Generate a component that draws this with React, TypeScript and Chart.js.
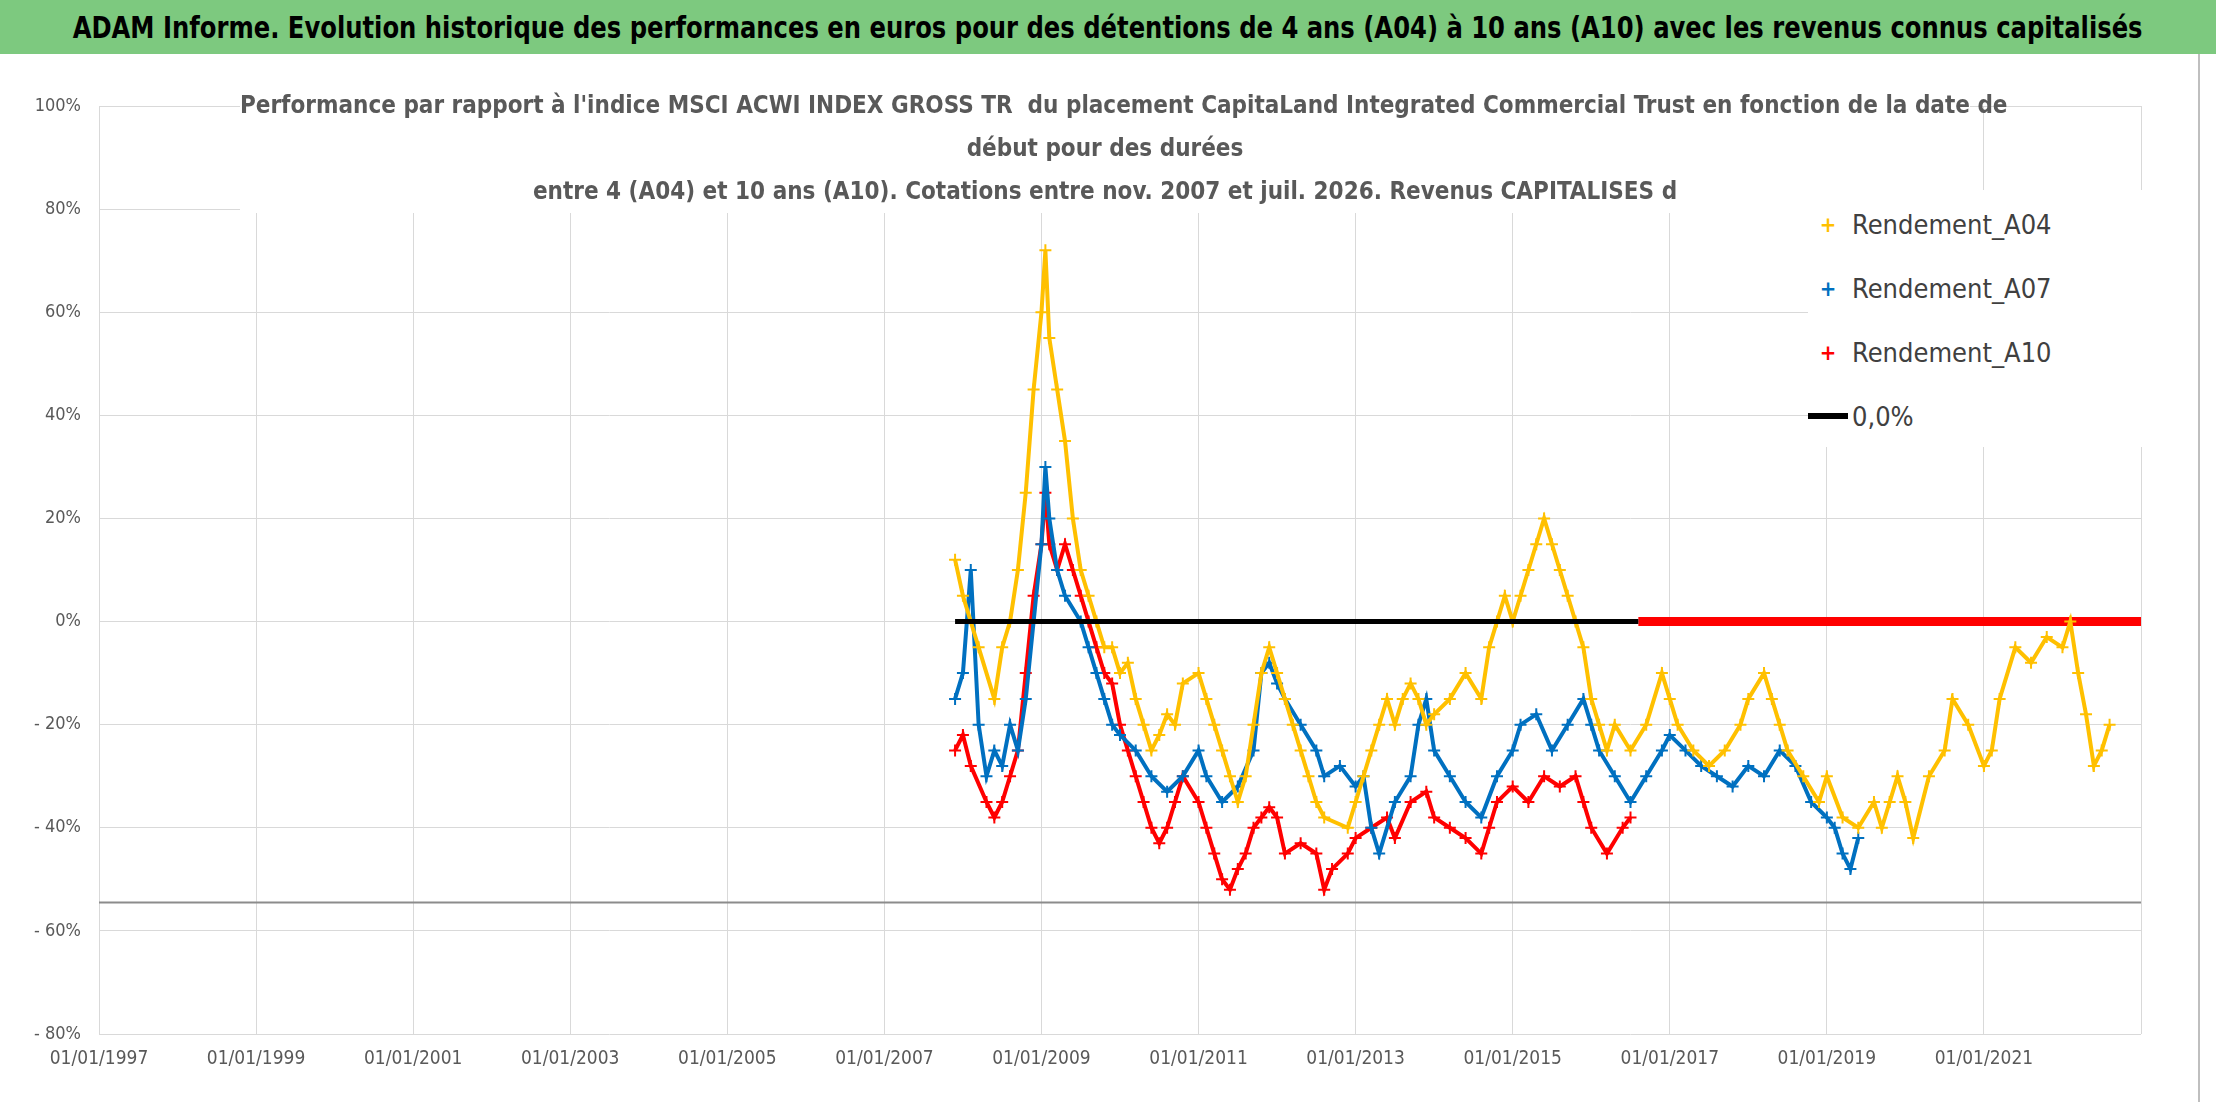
import React, { useEffect, useRef } from "react";
import { Chart, registerables } from "chart.js";
Chart.register(...registerables);

const a04X = [2007.9,2008.0,2008.2,2008.4,2008.5,2008.6,2008.7,2008.8,2008.9,2009.0,2009.05,2009.1,2009.2,2009.3,2009.4,2009.5,2009.6,2009.7,2009.8,2009.9,2010.0,2010.1,2010.2,2010.3,2010.4,2010.5,2010.6,2010.7,2010.8,2011.0,2011.1,2011.2,2011.3,2011.4,2011.5,2011.6,2011.7,2011.8,2011.9,2012.0,2012.1,2012.2,2012.3,2012.4,2012.5,2012.6,2012.9,2013.0,2013.1,2013.2,2013.3,2013.4,2013.5,2013.6,2013.7,2013.8,2013.9,2014.0,2014.2,2014.4,2014.6,2014.7,2014.8,2014.9,2015.0,2015.1,2015.2,2015.3,2015.4,2015.5,2015.6,2015.7,2015.8,2015.9,2016.0,2016.1,2016.2,2016.3,2016.5,2016.7,2016.9,2017.0,2017.1,2017.3,2017.5,2017.7,2017.9,2018.0,2018.2,2018.3,2018.4,2018.5,2018.7,2018.9,2019.0,2019.2,2019.4,2019.6,2019.7,2019.8,2019.9,2020.0,2020.1,2020.3,2020.5,2020.6,2020.8,2021.0,2021.1,2021.2,2021.4,2021.6,2021.8,2022.0,2022.1,2022.2,2022.3,2022.4,2022.5,2022.6];
const a04Y = [12,5,-5,-15,-5,0,10,25,45,60,72,55,45,35,20,10,5,0,-5,-5,-10,-8,-15,-20,-25,-22,-18,-20,-12,-10,-15,-20,-25,-30,-35,-30,-20,-10,-5,-10,-15,-20,-25,-30,-35,-38,-40,-35,-30,-25,-20,-15,-20,-15,-12,-15,-20,-18,-15,-10,-15,-5,0,5,0,5,10,15,20,15,10,5,0,-5,-15,-20,-25,-20,-25,-20,-10,-15,-20,-25,-28,-25,-20,-15,-10,-15,-20,-25,-30,-35,-30,-38,-40,-35,-40,-35,-30,-35,-42,-30,-25,-15,-20,-28,-25,-15,-5,-8,-3,-5,0,-10,-18,-28,-25,-20];

const a07X = [2007.9,2008.0,2008.1,2008.2,2008.3,2008.4,2008.5,2008.6,2008.7,2008.8,2008.9,2009.0,2009.05,2009.1,2009.2,2009.3,2009.5,2009.6,2009.7,2009.8,2009.9,2010.0,2010.2,2010.4,2010.6,2010.8,2011.0,2011.1,2011.3,2011.5,2011.7,2011.8,2011.9,2012.0,2012.1,2012.3,2012.5,2012.6,2012.8,2013.0,2013.1,2013.2,2013.3,2013.5,2013.7,2013.8,2013.9,2014.0,2014.2,2014.4,2014.6,2014.8,2015.0,2015.1,2015.3,2015.5,2015.7,2015.9,2016.0,2016.1,2016.3,2016.5,2016.7,2016.9,2017.0,2017.2,2017.4,2017.6,2017.8,2018.0,2018.2,2018.4,2018.6,2018.8,2019.0,2019.1,2019.2,2019.3,2019.4];
const a07Y = [-15,-10,10,-20,-30,-25,-28,-20,-25,-15,0,15,30,20,10,5,0,-5,-10,-15,-20,-22,-25,-30,-33,-30,-25,-30,-35,-32,-25,-10,-8,-12,-15,-20,-25,-30,-28,-32,-30,-40,-45,-35,-30,-20,-15,-25,-30,-35,-38,-30,-25,-20,-18,-25,-20,-15,-20,-25,-30,-35,-30,-25,-22,-25,-28,-30,-32,-28,-30,-25,-28,-35,-38,-40,-45,-48,-42];

const a10X = [2007.9,2008.0,2008.1,2008.3,2008.4,2008.5,2008.6,2008.7,2008.8,2008.9,2009.0,2009.05,2009.1,2009.2,2009.3,2009.4,2009.5,2009.6,2009.7,2009.8,2009.9,2010.0,2010.1,2010.2,2010.3,2010.4,2010.5,2010.6,2010.7,2010.8,2011.0,2011.1,2011.2,2011.3,2011.4,2011.5,2011.6,2011.7,2011.8,2011.9,2012.0,2012.1,2012.3,2012.5,2012.6,2012.7,2012.9,2013.0,2013.2,2013.4,2013.5,2013.7,2013.9,2014.0,2014.2,2014.4,2014.6,2014.7,2014.8,2015.0,2015.2,2015.4,2015.6,2015.8,2015.9,2016.0,2016.2,2016.4,2016.5];
const a10Y = [-25,-22,-28,-35,-38,-35,-30,-25,-10,5,15,25,15,10,15,10,5,0,-5,-10,-12,-20,-25,-30,-35,-40,-43,-40,-35,-30,-35,-40,-45,-50,-52,-48,-45,-40,-38,-36,-38,-45,-43,-45,-52,-48,-45,-42,-40,-38,-42,-35,-33,-38,-40,-42,-45,-40,-35,-32,-35,-30,-32,-30,-35,-40,-45,-40,-38];

const zeroBlackX = [2007.9, 2016.6];
const zeroRedX = [2016.6, 2023];
const refLineY = -54.5;

const font = "'DejaVu Sans Condensed', 'Liberation Sans Narrow', Arial, sans-serif";

export default function App() {
  const ref = useRef<HTMLCanvasElement>(null);
  useEffect(() => {
    const pts = (xs: number[], ys: number[]) => xs.map((x, i) => ({ x, y: ys[i] }));
    const sc = (label: string, color: string, xs: number[], ys: number[]) => ({
      label, data: pts(xs, ys), borderColor: color, backgroundColor: color,
      showLine: true, borderWidth: 4, pointStyle: "cross", pointRadius: 6, pointBorderWidth: 2,
    });
    const chart = new Chart(ref.current!, {
      type: "scatter",
      data: {
        datasets: [
          { label: "ref", data: [{ x: 1996, y: refLineY }, { x: 2023, y: refLineY }], showLine: true, borderColor: "#8c8c8c", borderWidth: 2, pointRadius: 0 } as any,
          { label: "0,0%", data: zeroBlackX.map((x) => ({ x, y: 0 })), showLine: true, borderColor: "#000", borderWidth: 5, pointRadius: 0 },
          sc("Rendement_A04", "#FFC000", a04X, a04Y),
          sc("Rendement_A07", "#0070C0", a07X, a07Y),
          sc("Rendement_A10", "#FF0000", a10X, a10Y),
          { label: "zr", data: zeroRedX.map((x) => ({ x, y: 0 })), showLine: true, borderColor: "#FF0000", borderWidth: 9, pointRadius: 0 },
        ],
      },
      options: {
        animation: false, responsive: false, maintainAspectRatio: false,
        layout: { padding: { left: 0, right: 75, top: 52, bottom: 0 } },
        plugins: { legend: { display: false }, tooltip: { enabled: false } },
        scales: {
          x: {
            type: "linear", min: 1997, max: 2023,
            grid: { color: "#d9d9d9", drawTicks: false },
            border: { display: false },
            afterFit: (s: any) => { s.height = 68; },
            afterBuildTicks: (s: any) => { s.ticks = []; for (let y = 1997; y <= 2023; y += 2) s.ticks.push({ value: y }); },
            ticks: { padding: 14, color: "#595959", font: { family: font, size: 19 }, maxRotation: 0, callback: (v: any) => (v <= 2021 ? "01/01/" + v : "") },
          },
          y: {
            min: -80, max: 100,
            grid: { color: "#d9d9d9", drawTicks: false },
            border: { display: false },
            afterFit: (s: any) => { s.width = 99; },
            ticks: { stepSize: 20, padding: 18, color: "#595959", font: { family: font, size: 18 }, callback: (v: any) => (v < 0 ? "- " + Math.abs(v) + "%" : v + "%") },
          },
        },
      },
    });
    return () => chart.destroy();
  }, []);

  const legItem = (color: string, text: string, line = false) => (
    <div style={{ display: "flex", alignItems: "center", height: 64 }}>
      {line ? (
        <div style={{ width: 40, height: 6, background: color, marginRight: 4 }} />
      ) : (
        <div style={{ width: 40, textAlign: "center", color, fontSize: 22, fontWeight: "bold", marginRight: 4 }}>+</div>
      )}
      <span style={{ fontSize: 27, color: "#404040" }}>{text}</span>
    </div>
  );

  return (
    <div style={{ position: "fixed", left: 0, top: 0, width: 2216, height: 1102, background: "#fff", fontFamily: font, overflow: "hidden" }}>
      <div style={{ position: "absolute", left: 0, top: 0, width: 2216, height: 54, background: "#7DC97F", display: "flex", alignItems: "center", justifyContent: "center", fontWeight: "bold", fontSize: 31, color: "#000", whiteSpace: "nowrap" }}>
        <span style={{ display: "inline-block", transform: "scaleX(0.87)" }}>ADAM Informe. Evolution historique des performances en euros pour des détentions de 4 ans (A04) à 10 ans (A10) avec les revenus connus capitalisés</span>
      </div>
      <canvas ref={ref} width={2216} height={1048} style={{ position: "absolute", left: 0, top: 54 }} />
      <div style={{ position: "absolute", left: 240, top: 84, width: 1730, textAlign: "center", color: "#595959", fontWeight: "bold", fontSize: 24, lineHeight: "43px", background: "#fff", whiteSpace: "nowrap" }}>
        Performance par rapport à l'indice MSCI ACWI INDEX GROSS TR&nbsp; du placement CapitaLand Integrated Commercial Trust en fonction de la date de
        <br />début pour des durées<br />
        entre 4 (A04) et 10 ans (A10). Cotations entre nov. 2007 et juil. 2026. Revenus CAPITALISES d
      </div>
      <div style={{ position: "absolute", left: 1808, top: 190, width: 334, height: 255, background: "#fff", paddingTop: 2 }}>
        {legItem("#FFC000", "Rendement_A04")}
        {legItem("#0070C0", "Rendement_A07")}
        {legItem("#FF0000", "Rendement_A10")}
        {legItem("#000", "0,0%", true)}
      </div>
      <div style={{ position: "absolute", left: 2198, top: 54, width: 2, height: 1048, background: "#bfbfbf" }} />
    </div>
  );
}
